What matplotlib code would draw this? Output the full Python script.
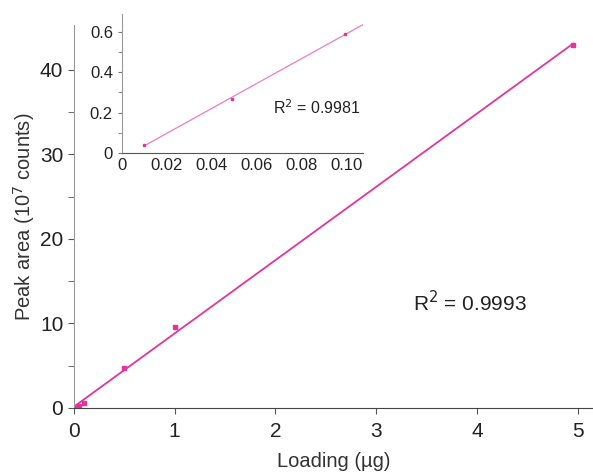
import numpy as np
import matplotlib.pyplot as plt

plt.rcParams['font.family'] = ['Liberation Sans', 'DejaVu Sans']

# loading (ug) vs peak area (10^7 counts)
loading = [0.01, 0.05, 0.1, 0.5, 1.0, 4.95]
area = [0.04, 0.27, 0.6, 4.75, 9.6, 42.9]

# low-load points for the inset
loading_low = [0.01, 0.049, 0.099]
area_low = [0.04, 0.27, 0.59]

r2_all = 0.9993
r2_low = 0.9981

pink = '#e2359b'
pink_light = '#ec7fbd'

fig = plt.figure(figsize=(5.93, 4.72), dpi=100)
ax = fig.add_axes([0.1243, 0.1356, 0.8757, 0.8114])

k, b = np.polyfit(loading, area, 1)
xf = np.array([0, loading[-1]])
ax.plot(xf, k * xf + b, color=pink, lw=1.3)
ax.plot(loading, area, 's', color=pink, ms=3)

ax.set_xlim(0, 5.15)
ax.set_ylim(0, 45.3)
ax.set_xticks([0, 1, 2, 3, 4, 5])
ax.set_yticks([0, 10, 20, 30, 40])
ax.set_yticks(np.arange(5, 45, 10), minor=True)
ax.tick_params(labelsize=15, length=4, color='#555555', labelcolor='#222222')
ax.tick_params(axis='x', pad=6)
ax.tick_params(which='minor', length=4, color='#555555')
for s in ['top', 'right']:
    ax.spines[s].set_visible(False)
ax.spines['left'].set_color('#999999')
ax.spines['bottom'].set_color('#444444')
ax.set_xlabel('Loading (µg)', fontsize=14.5, color='#333333', labelpad=8)
ax.set_ylabel('Peak area (10$^7$ counts)', fontsize=14.5, color='#333333', labelpad=2)
ax.text(3.36, 12.5, 'R$^2$ = %.4f' % r2_all, fontsize=15, color='#222222', va='center')

ins = fig.add_axes([0.2057, 0.676, 0.406, 0.2945])
k2, b2 = np.polyfit(loading_low, area_low, 1)
xf2 = np.array([loading_low[0], 0.107])
ins.plot(xf2, k2 * xf2 + b2, color=pink_light, lw=0.9)
ins.plot(loading_low, area_low, 's', color=pink, ms=1.5)

ins.set_xlim(0, 0.107)
ins.set_ylim(0, 0.69)
ins.set_xticks([0, 0.02, 0.04, 0.06, 0.08, 0.10])
ins.set_xticklabels(['0', '0.02', '0.04', '0.06', '0.08', '0.10'])
ins.set_yticks([0, 0.2, 0.4, 0.6])
ins.set_yticklabels(['0', '0.2', '0.4', '0.6'])
ins.set_yticks([0.1, 0.3, 0.5], minor=True)
ins.tick_params(labelsize=12, labelcolor='#222222', color='#777777', length=3)
ins.tick_params(axis='x', length=0)
ins.tick_params(which='minor', length=3, color='#777777')
ins.patch.set_alpha(0)
for s in ['top', 'right']:
    ins.spines[s].set_visible(False)
ins.spines['left'].set_color('#999999')
ins.spines['bottom'].set_color('#555555')
ins.text(0.067, 0.225, 'R$^2$ = %.4f' % r2_low, fontsize=11.5, color='#222222', va='center')

plt.savefig('out.png', dpi=100)
